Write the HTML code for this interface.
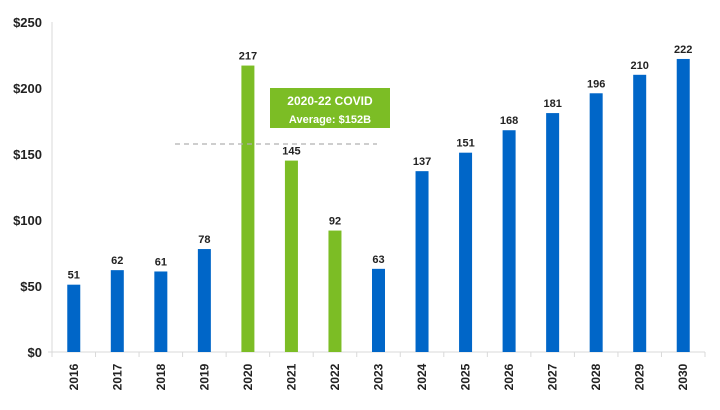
<!DOCTYPE html>
<html><head><meta charset="utf-8"><style>
body{margin:0;background:#fff;font-family:"Liberation Sans",sans-serif}
</style></head><body>
<svg width="720" height="405" id="c" xmlns="http://www.w3.org/2000/svg"></svg>
<script>
const categories=["2016","2017","2018","2019","2020","2021","2022","2023","2024","2025","2026","2027","2028","2029","2030"];
const values=[51,62,61,78,217,145,92,63,137,151,168,181,196,210,222];
const covid=[false,false,false,false,true,true,true,false,false,false,false,false,false,false,false];
const yTicks=[0,50,100,150,200,250];
const yTickLabels=["$0","$50","$100","$150","$200","$250"];
const svg=document.getElementById('c');
const NS="http://www.w3.org/2000/svg";
const x0=52,x1=705,y0=352,pxPer=1.32;
const bw=(x1-x0)/categories.length;
const y=v=>y0-v*pxPer;
const xc=i=>x0+bw*(i+0.5);
function mk(t,a,txt){const e=document.createElementNS(NS,t);for(const k in a)e.setAttribute(k,a[k]);if(txt!=null)e.textContent=txt;svg.appendChild(e);return e;}
let e;
e=mk('line',{x1:x0,y1:22,x2:x0,y2:y0,stroke:'#d9d9d9'});


e=mk('line',{x1:x0-4,y1:y0,x2:x1,y2:y0,stroke:'#d9d9d9'});


yTicks.forEach((t,i)=>{
 e=mk('text',{x:42,y:y(t)+5,'text-anchor':'end','font-size':13,'font-weight':'bold',fill:'#222'},yTickLabels[i]);
 
 
});
for(let i=0;i<=categories.length;i++){
 e=mk('line',{x1:x0+bw*i,y1:y0,x2:x0+bw*i,y2:y0+5,stroke:'#d9d9d9'});
 
 
}
categories.forEach((c,i)=>{
 const v=values[i];
 e=mk('rect',{x:xc(i)-6.5,y:y(v),width:13,height:v*pxPer,fill:covid[i]?'#7cbd25':'#0066c8'});
 
 
 e=mk('text',{x:xc(i),y:y(v)-6,'text-anchor':'middle','font-size':11,'font-weight':'bold',fill:'#222'},String(v));
 
 
 e=mk('text',{x:0,y:0,'text-anchor':'middle','font-size':12,'font-weight':'bold',fill:'#222',transform:`translate(${xc(i)+4},377) rotate(-90)`},c);
 
 
});
e=mk('line',{x1:175,y1:144,x2:377,y2:144,stroke:'#b0b0b0','stroke-dasharray':'5,4','stroke-width':1.2});


e=mk('rect',{x:270,y:88,width:120,height:40,fill:'#7cbd25'});


e=mk('text',{x:330,y:105,'text-anchor':'middle','font-size':12,'font-weight':'bold',fill:'#fff'},'2020-22 COVID');


e=mk('text',{x:330,y:123,'text-anchor':'middle','font-size':11,'font-weight':'bold',fill:'#fff'},'Average: $152B');


</script>
</body></html>
